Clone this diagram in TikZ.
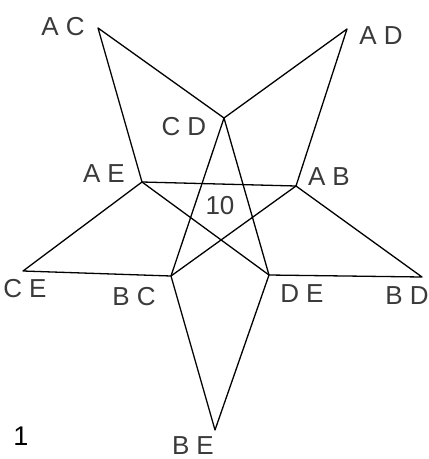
\documentclass[tikz,border=0pt]{standalone}
\usepackage{fontspec}
\setmainfont{Liberation Sans}
\usepackage{tikz}
\usetikzlibrary{calc}
\usepackage{xcolor}
\definecolor{labelgray}{HTML}{3A3A3A}

\begin{document}
\begin{tikzpicture}[x=1pt, y=-1pt,
    edge/.style={line width=1.3pt, black, line join=round},
    vlabel/.style={text=labelgray, font=\fontsize{26}{26}\selectfont, inner sep=0pt}]
        \useasboundingbox (0,0) rectangle (429,459);
        % vertices
        \coordinate (ac) at (98,28);
        \coordinate (ad) at (347,29);
        \coordinate (cd) at (224,118);
        \coordinate (ae) at (142,182);
        \coordinate (ab) at (296,186);
        \coordinate (ce) at (23,271);
        \coordinate (bc) at (171,276);
        \coordinate (de) at (269,275);
        \coordinate (bd) at (422,277);
        \coordinate (be) at (215,430);
        % labels
        \node[vlabel] (lac) at (63,27) {A\hspace{7pt}C};
        \node[vlabel] (lad) at (381,36) {A\hspace{7pt}D};
        \node[vlabel] (lcd) at (184,127) {C\hspace{7pt}D};
        \node[vlabel] (lae) at (104,174) {A\hspace{7pt}E};
        \node[vlabel] (lab) at (329,177) {A\hspace{7pt}B};
        \node[vlabel] (lce) at (25,289) {C\hspace{7pt}E};
        \node[vlabel] (lbc) at (134,297) {B\hspace{7pt}C};
        \node[vlabel] (lde) at (302,294) {D\hspace{7pt}E};
        \node[vlabel] (lbd) at (407,296) {B\hspace{7pt}D};
        \node[vlabel] (lbe) at (193,446) {B\hspace{7pt}E};
        \node[vlabel] (ten) at (220,206) {10};
        \node[font=\fontsize{27}{27}\selectfont, inner sep=0pt] (num) at (21,436) {1};
        % edges
        \draw[edge] (ae) -- (ac) -- (cd) -- (ad) -- (ab);
        \draw[edge] (ae) -- (ab);
        \draw[edge] (ae) -- (ce) -- (bc) -- (be) -- (de) -- (bd) -- (ab);
        \draw[edge] (ae) -- (de);
        \draw[edge] (ab) -- (bc);
        \draw[edge] (bc) -- (cd) -- (de);
      \end{tikzpicture}
\end{document}
